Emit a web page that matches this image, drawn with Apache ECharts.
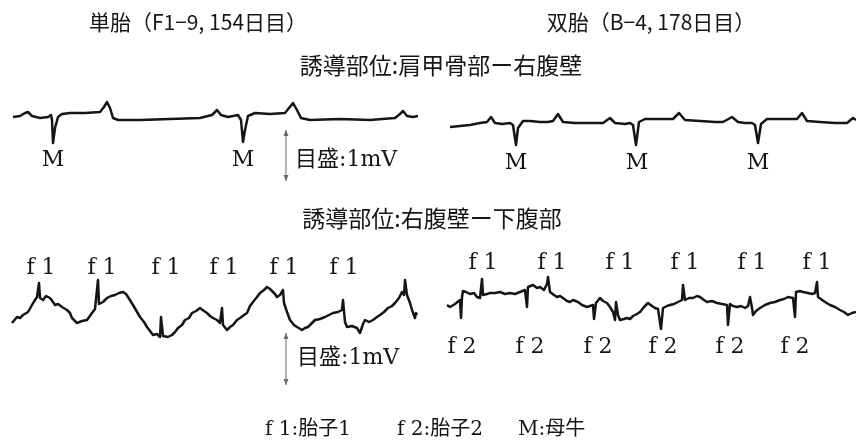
<!DOCTYPE html>
<html>
<head>
<meta charset="utf-8">
<script src="https://cdn.jsdelivr.net/npm/echarts@6/dist/echarts.min.js"></script>
<style>
  html, body { margin: 0; padding: 0; background: #fff; }
  #chart { width: 856px; height: 443px; }
</style>
</head>
<body>
<div id="chart"></div>
<script>
// 心電図トレース（時間, 電位）— 図から読み取った値
const singleTopTrace = [
    [0, -2], [7, -1], [12, 2], [15, 3], [19, -1], [27, -3], [35, -2], [38, 0], [39, -5], [40, -28],
    [42, -13], [45, -2], [49, 1], [57, 2], [72, 2], [87, 3], [91, 8], [94, 13], [97, 7], [100, -3],
    [105, -5], [127, -5], [157, -4], [187, -3], [199, 0], [204, 5], [208, 0], [215, -2], [225, 0],
    [228, -5], [230, -27], [232, -15], [235, -1], [242, 2], [257, 1], [272, 2], [276, 7], [280, 12],
    [284, 5], [288, -3], [297, -5], [327, -4], [357, -5], [382, -3], [387, 1], [390, 4], [394, -1],
    [400, -2], [405, -1]
];
const twinTopTrace = [
    [0, -12], [10, -11], [20, -10], [30, -8], [37, -7], [41, -2], [45, -8], [52, -9], [60, -8],
    [63, -10], [66, -30], [68, -13], [73, -6], [80, -6], [90, -7], [98, -7], [103, -6], [108, 1],
    [113, -7], [125, -8], [140, -8], [153, -8], [160, -3], [165, -8], [175, -9], [180, -8], [183, -10],
    [186, -30], [189, -7], [195, -4], [210, -4], [223, -4], [229, 2], [235, -5], [250, -6], [265, -7],
    [273, -7], [282, -2], [288, -7], [295, -8], [302, -8], [305, -10], [308, -28], [311, -9], [317, -4],
    [330, -4], [347, -4], [352, 2], [357, -6], [370, -7], [385, -8], [397, -8], [403, -3], [406, -5]
];
const singleBottomTrace = [
    [0, -23], [5, -17], [8, -18], [11, -15], [16, -12], [20, -5], [23, 0], [25, 3], [27, 17], [28, 2],
    [31, 0], [34, 4], [38, 2], [41, -2], [43, -5], [46, -4], [50, -7], [55, -10], [58, -13], [60, -18],
    [65, -23], [70, -21], [75, -20], [80, -13], [83, -9], [85, -7], [86, 20], [87, -4], [91, -2], [95, 2],
    [99, 4], [103, 5], [107, 7], [111, 8], [114, 6], [116, 3], [121, -5], [123, -3], [128, -17],
    [132, -22], [135, -27], [138, -31], [141, -35], [145, -34], [148, -37], [149, -17], [151, -36],
    [156, -37], [160, -35], [163, -32], [166, -28], [170, -25], [173, -20], [177, -18], [180, -13],
    [184, -11], [188, -8], [192, -11], [195, -13], [198, -16], [201, -18], [205, -20], [208, -23],
    [210, -8], [211, -25], [215, -30], [218, -27], [221, -25], [225, -20], [228, -18], [232, -15],
    [235, -13], [238, -6], [241, -2], [245, 3], [248, 7], [252, 10], [255, 13], [258, 11], [260, 10],
    [263, 6], [265, 3], [268, 5], [271, 10], [272, -3], [275, -12], [278, -20], [282, -25], [285, -27],
    [290, -30], [293, -28], [296, -27], [300, -23], [303, -20], [308, -19], [313, -17], [317, -15],
    [321, -13], [326, -12], [330, -10], [331, 0], [333, -22], [335, -27], [340, -26], [345, -28],
    [348, -33], [351, -24], [353, -20], [357, -22], [361, -20], [365, -17], [368, -15], [372, -12],
    [376, -8], [380, -6], [383, -3], [387, 2], [390, 8], [392, 5], [393, 20], [395, 5], [398, -3],
    [400, -10], [403, -18], [404, -13], [405, -15]
];
const twinBottomTrace = [
    [0, -5], [3, -7], [5, -8], [8, -4], [10, -2], [13, 0], [14, -18], [15, 3], [16, 9], [19, 8], [23, 6],
    [27, 7], [30, 3], [33, 2], [35, 21], [36, 5], [40, 6], [43, 7], [48, 7], [53, 8], [58, 6], [63, 7],
    [68, 6], [73, 8], [78, 10], [80, -7], [81, 13], [86, 15], [90, 12], [93, 13], [97, 10], [100, 16],
    [101, 23], [103, 8], [107, 5], [110, 3], [113, 4], [116, 2], [120, -1], [123, -2], [126, 0],
    [131, -2], [135, -5], [140, -7], [143, -6], [146, -5], [147, -19], [149, -3], [153, 2], [156, -1],
    [160, -3], [163, -7], [166, -12], [168, -20], [169, -2], [171, -15], [173, -20], [177, -19],
    [180, -18], [183, -19], [186, -16], [190, -14], [193, -12], [197, -7], [201, -3], [205, -6],
    [208, -8], [211, -9], [213, -10], [214, -29], [216, -8], [220, -6], [223, -5], [227, -4], [231, -2],
    [235, 0], [236, 15], [238, 0], [242, 2], [246, 2], [250, 4], [253, 3], [257, 0], [260, -2],
    [265, -1], [270, -3], [275, -4], [280, -5], [281, -25], [283, -4], [286, -6], [290, -7], [294, -6],
    [298, -8], [301, -6], [303, 3], [305, -8], [306, -15], [309, -11], [313, -8], [318, -5], [323, -3],
    [328, -2], [333, 0], [337, 1], [341, 3], [346, 2], [348, -17], [349, 8], [353, 9], [356, 8],
    [361, 7], [365, 6], [368, 7], [370, 18], [371, 3], [373, 2], [378, -2], [383, -5], [388, -7],
    [393, -10], [397, -12], [401, -15], [405, -13], [409, -12]
];

// 波形の識別ラベル（時間位置）
const singleMaternalTimes = [40, 230];
const twinMaternalTimes = [66, 187, 308];
const singleFetus1Times = [29, 90, 154, 212, 272, 332];
const twinFetus1Times = [36, 105, 173, 238, 305, 370];
const twinFetus2Times = [15, 83, 151, 216, 283, 348];

const titles = ["単胎（F1−9, 154日目）", "双胎（B−4, 178日目）"];
const leadTitles = ["誘導部位:肩甲骨部ー右腹壁", "誘導部位:右腹壁ー下腹部"];
const scaleText = "目盛:1mV";
const legendItems = ["f 1:胎子1", "f 2:胎子2", "M:母牛"];

const SANS = '"Noto Sans CJK JP", "Noto Sans", sans-serif';
const SERIF = '"DejaVu Serif", "Noto Sans CJK JP", serif';
const INK = "#151515";

const chart = echarts.init(document.getElementById("chart"), null, { renderer: "canvas" });

// グリッドごとの配置（上段: 電位 -60..20, 下段: -60..50）
const grids = [
    { left: 13, top: 95, width: 405, height: 80 },
    { left: 450, top: 95, width: 406, height: 80 },
    { left: 12, top: 250, width: 405, height: 110 },
    { left: 447, top: 250, width: 409, height: 110 }
];
const xMax = [405, 406, 405, 409];
const yRange = [[-60, 20], [-60, 20], [-60, 50], [-60, 50]];
const traces = [singleTopTrace, twinTopTrace, singleBottomTrace, twinBottomTrace];

function labelSeries(gridIndex, times, value, text) {
    return {
        type: "scatter",
        xAxisIndex: gridIndex,
        yAxisIndex: gridIndex,
        symbolSize: 0,
        silent: true,
        clip: false,
        itemStyle: { opacity: 1, color: INK },
        data: times.map(t => [t, value]),
        label: {
            show: true,
            position: "inside",
            formatter: text,
            fontFamily: SERIF,
            fontSize: 22,
            color: INK,
            opacity: 1
        }
    };
}

// 目盛り矢印（縦の両矢印）
function scaleBar(x, y1, y2) {
    const c = "#6a6a6a";
    return [
        { type: "line", shape: { x1: x, y1: y1, x2: x, y2: y2 }, style: { stroke: c, lineWidth: 1 } },
        { type: "polygon", shape: { points: [[x, y1], [x - 2.5, y1 + 6], [x + 2.5, y1 + 6]] }, style: { fill: c } },
        { type: "polygon", shape: { points: [[x, y2], [x - 2.5, y2 - 6], [x + 2.5, y2 - 6]] }, style: { fill: c } }
    ];
}

function text(str, x, y, size, family, align) {
    return {
        type: "text",
        x: x,
        y: y,
        style: {
            text: str,
            font: size + "px " + family,
            fill: INK,
            align: align || "center",
            verticalAlign: "middle"
        }
    };
}

chart.setOption({
    animation: false,
    backgroundColor: "#fff",
    grid: grids,
    xAxis: grids.map((g, i) => ({ type: "value", gridIndex: i, min: 0, max: xMax[i], show: false })),
    yAxis: grids.map((g, i) => ({ type: "value", gridIndex: i, min: yRange[i][0], max: yRange[i][1], show: false })),
    series: [
        ...traces.map((data, i) => ({
            type: "line",
            xAxisIndex: i,
            yAxisIndex: i,
            data: data,
            showSymbol: false,
            silent: true,
            lineStyle: { color: INK, width: 2.5, join: "round" }
        })),
        labelSeries(0, singleMaternalTimes, -45, "M"),
        labelSeries(1, twinMaternalTimes, -48, "M"),
        labelSeries(2, singleFetus1Times, 32, "f 1"),
        labelSeries(3, twinFetus1Times, 37, "f 1"),
        labelSeries(3, twinFetus2Times, -47, "f 2")
    ],
    graphic: [
        text(titles[0], 198, 22, 21, SANS),
        text(titles[1], 651, 22, 21, SANS),
        text(leadTitles[0], 441, 65, 23, SANS),
        text(leadTitles[1], 432, 218, 23, SANS),
        ...scaleBar(286, 130, 181),
        text(scaleText, 295, 160, 22, SERIF, "left"),
        ...scaleBar(286, 333, 385),
        text(scaleText, 297, 358, 22, SERIF, "left"),
        text(legendItems[0], 265, 430, 20, SERIF, "left"),
        text(legendItems[1], 397, 430, 20, SERIF, "left"),
        text(legendItems[2], 518, 430, 20, SERIF, "left")
    ]
});
</script>
</body>
</html>
